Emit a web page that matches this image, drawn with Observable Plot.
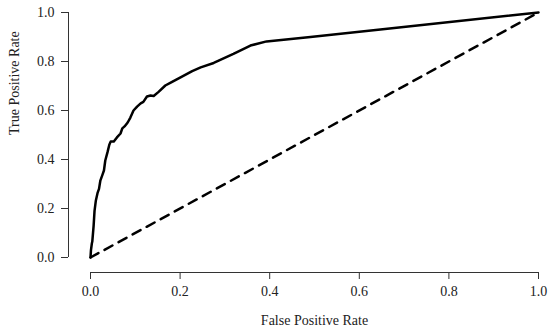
<!DOCTYPE html>
<html>
<head>
<meta charset="utf-8">
<script src="https://cdn.jsdelivr.net/npm/d3@7"></script>
<script src="https://cdn.jsdelivr.net/npm/@observablehq/plot@0.6"></script>
<style>
  html, body { margin: 0; padding: 0; background: #fff; }
  #chart svg { display: block; }
</style>
</head>
<body>
<div id="chart"></div>
<script>
const fpr = [0, 0.001, 0.003, 0.004, 0.007, 0.009, 0.012, 0.016, 0.019, 0.022, 0.027, 0.030, 0.033, 0.038, 0.042, 0.045, 0.052, 0.059, 0.067, 0.071, 0.076, 0.083, 0.089, 0.096, 0.104, 0.112, 0.118, 0.126, 0.134, 0.141, 0.152, 0.167, 0.179, 0.201, 0.227, 0.246, 0.275, 0.319, 0.357, 0.393, 0.491, 0.647, 1];
const tpr = [0, 0.029, 0.057, 0.065, 0.130, 0.190, 0.233, 0.265, 0.280, 0.314, 0.339, 0.355, 0.396, 0.430, 0.460, 0.473, 0.473, 0.490, 0.506, 0.527, 0.535, 0.551, 0.571, 0.600, 0.616, 0.629, 0.635, 0.657, 0.661, 0.659, 0.676, 0.702, 0.714, 0.735, 0.761, 0.776, 0.794, 0.831, 0.865, 0.882, 0.900, 0.931, 1];
const diagX = [0, 1];
const diagY = [0, 1];
const tickValues = [0, 0.2, 0.4, 0.6, 0.8, 1.0];
const xTitle = "False Positive Rate";
const yTitle = "True Positive Rate";

const roc = fpr.map((x, i) => ({x, y: tpr[i]}));
const diag = diagX.map((x, i) => ({x, y: diagY[i]}));

const chart = Plot.plot({
  width: 550,
  height: 334,
  marginLeft: 90,
  marginRight: 12,
  marginTop: 12,
  marginBottom: 77,
  style: {fontFamily: "'Liberation Serif', 'Times New Roman', serif", fontSize: "14px", color: "#222", background: "#fff"},
  x: {domain: [0, 1]},
  y: {domain: [0, 1]},
  marks: [
    Plot.ruleX([0], {y1: 0, y2: 1, dx: -22, stroke: "#333", strokeWidth: 1}),
    Plot.ruleY([0], {x1: 0, x2: 1, dy: 15, stroke: "#333", strokeWidth: 1}),
    Plot.axisY({ticks: tickValues, tickFormat: d3.format(".1f"), dx: -22, tickSize: 7, tickPadding: 7, stroke: "#333", fill: "#222", label: null}),
    Plot.axisX({ticks: tickValues, tickFormat: d3.format(".1f"), dy: 15, tickSize: 7, tickPadding: 7, stroke: "#333", fill: "#222", label: null}),
    Plot.line(diag, {x: "x", y: "y", stroke: "#000", strokeWidth: 2.5, strokeDasharray: "9,7"}),
    Plot.line(roc, {x: "x", y: "y", stroke: "#000", strokeWidth: 2.5, strokeLinejoin: "round"}),
    Plot.text([xTitle], {text: d => d, frameAnchor: "bottom", dy: 67, fill: "#222"}),
    Plot.text([yTitle], {text: d => d, frameAnchor: "left", dx: -76, rotate: -90, fill: "#222"})
  ]
});
document.getElementById("chart").appendChild(chart);
</script>
</body>
</html>
